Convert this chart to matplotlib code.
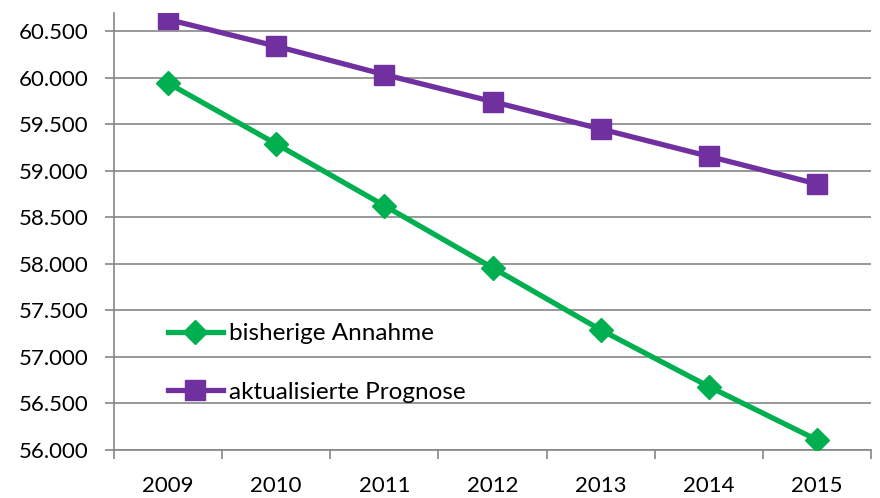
import matplotlib.pyplot as plt
from matplotlib.ticker import FuncFormatter

years = ["2009", "2010", "2011", "2012", "2013", "2014", "2015"]
bisherige = [59940, 59287, 58624, 57957, 57290, 56681, 56108]
aktualisiert = [60624, 60337, 60032, 59742, 59448, 59154, 58857]

plt.rcParams['font.family'] = ['Lato', 'DejaVu Sans']

fig = plt.figure(figsize=(8.8, 4.98), dpi=100)
ax = fig.add_axes([0.1295, 0.0964, 0.8605, 0.8776])

x = range(len(years))
ax.plot(x, bisherige, color="#00B050", lw=3.8, marker="D", ms=12,
        label="bisherige Annahme", zorder=3)
ax.plot(x, aktualisiert, color="#7030A0", lw=3.8, marker="s", ms=14,
        label="aktualisierte Prognose", zorder=3)

ax.set_xlim(-0.5, 6.5)
ax.set_ylim(56000, 60694)
ax.set_yticks([56000 + 500 * i for i in range(10)])
ax.yaxis.set_major_formatter(FuncFormatter(lambda v, p: "{:,.0f}".format(v).replace(",", ".")))
ax.set_xticks([i - 0.5 for i in range(8)], minor=False)
ax.set_xticklabels([])
ax.set_xticks(list(x), minor=True)
ax.set_xticklabels(years, minor=True)
ax.tick_params(axis="x", which="minor", length=0, pad=19, labelsize=16)
ax.tick_params(axis="x", which="major", length=6.5, color="#868686", width=1.2)
ax.tick_params(axis="y", length=6.5, color="#868686", width=1.2, pad=12, labelsize=16)

ax.grid(axis="y", color="#868686", lw=1.2)
ax.set_axisbelow(True)
for s in ["top", "right"]:
    ax.spines[s].set_visible(False)
for s in ["left", "bottom"]:
    ax.spines[s].set_color("#868686")
    ax.spines[s].set_linewidth(1.2)

ax.legend(loc="upper left", bbox_to_anchor=(0.071, 0.29), frameon=False,
          fontsize=17.5, handlelength=2.26, handletextpad=0.25, labelspacing=1.55,
          numpoints=1, borderpad=0, borderaxespad=0)

fig.savefig("out.png", dpi=100)
